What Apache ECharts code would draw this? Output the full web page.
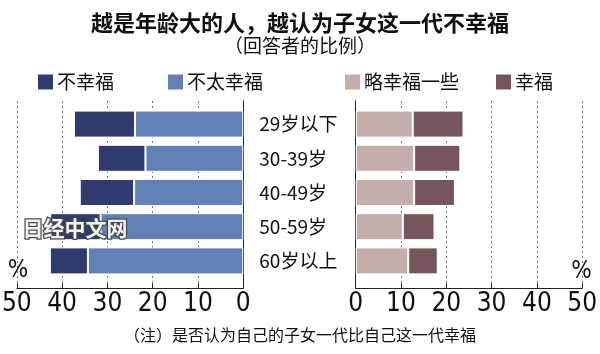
<!DOCTYPE html>
<html>
<head>
<meta charset="utf-8">
<script src="https://cdn.jsdelivr.net/npm/echarts@6/dist/echarts.min.js"></script>
<style>html,body{margin:0;padding:0;background:#fff}#c{width:600px;height:354px}</style>
</head>
<body>
<div id="c"></div>
<script>
const categories = ['29岁以下', '30-39岁', '40-49岁', '50-59岁', '60岁以上'];
const notHappy = [13.5, 10.5, 12.0, 11.1, 8.4];      // 不幸福
const notVeryHappy = [23.9, 21.6, 24.1, 31.5, 34.3]; // 不太幸福
const slightlyHappy = [12.6, 12.9, 12.9, 10.4, 11.6]; // 略幸福一些
const happy = [11.2, 10.2, 9.0, 7.0, 6.5];           // 幸福
const tickValues = [0, 10, 20, 30, 40, 50];

const CJK = "'Noto Sans CJK SC', 'Noto Sans', sans-serif";
const NARROW = "'Liberation Sans Narrow', 'DejaVu Sans Condensed', 'Liberation Sans', sans-serif";
const colors = { notHappy: '#2e3b6c', notVeryHappy: '#6080b6', slightlyHappy: '#c4adab', happy: '#76555b' };

const chart = echarts.init(document.getElementById('c'), null, { renderer: 'canvas' });

const gridL = { left: 16.8, width: 226.5 };
const gridR = { left: 355.7, width: 226.5 };

function decoX(idx, inverse) {
  return {
    type: 'value', gridIndex: idx, min: tickValues[0], max: tickValues[tickValues.length - 1], interval: 10,
    inverse: inverse,
    axisLine: { show: true, onZero: false, lineStyle: { color: '#222', width: 1 } },
    axisTick: { show: true, inside: true, length: 5, lineStyle: { color: '#222' } },
    axisLabel: { show: true, margin: 3, color: '#111', fontSize: 26, fontFamily: NARROW },
    splitLine: { show: true, lineStyle: { color: '#777', type: [2, 3], width: 1 } }
  };
}
function decoY(idx, pos) {
  return {
    type: 'value', gridIndex: idx, min: 0, max: 1, position: pos,
    axisLine: { show: true, onZero: false, lineStyle: { color: '#222', width: 1 } },
    axisTick: { show: false }, axisLabel: { show: false }, splitLine: { show: false }
  };
}

function legend(name, left) {
  return {
    data: [name], left: left, top: 72.5, padding: 0, itemWidth: 17, itemHeight: 17, icon: 'rect',
    itemGap: 0, selectedMode: false,
    textStyle: { fontFamily: CJK, fontSize: 19, color: '#111', padding: [0, 0, 0, -2] }
  };
}

function barSeries(name, data, color, xIdx, yIdx) {
  return {
    type: 'bar', name: name, data: data, stack: 'g' + xIdx, xAxisIndex: xIdx, yAxisIndex: yIdx,
    barWidth: 27,
    itemStyle: { color: color, borderColor: '#fff', borderWidth: 1 },
    emphasis: { disabled: true }
  };
}

chart.setOption({
  animation: false,
  backgroundColor: '#fff',
  title: [
    { text: '越是年龄大的人，越认为子女这一代不幸福', left: 'center', top: 12, padding: 0,
      textStyle: { fontFamily: CJK, fontSize: 22, fontWeight: 'bold', color: '#111' } },
    { text: '（回答者的比例）', left: 'center', top: 36, padding: 0,
      textStyle: { fontFamily: CJK, fontSize: 19, fontWeight: 'normal', color: '#111' } },
    { text: '（注）是否认为自己的子女一代比自己这一代幸福', left: 'center', top: 327, padding: 0,
      textStyle: { fontFamily: CJK, fontSize: 16, fontWeight: 'normal', color: '#111' } }
  ],
  legend: [
    legend('不幸福', 36),
    legend('不太幸福', 166),
    legend('略幸福一些', 343),
    legend('幸福', 494)
  ],
  grid: [
    { left: gridL.left, width: gridL.width, top: 107, height: 171, containLabel: false, outerBoundsMode: 'none' },
    { left: gridR.left, width: gridR.width, top: 107, height: 171, containLabel: false, outerBoundsMode: 'none' },
    { left: gridL.left, width: gridL.width, top: 101, height: 187.3, containLabel: false, outerBoundsMode: 'none' },
    { left: gridR.left, width: gridR.width, top: 101, height: 187.3, containLabel: false, outerBoundsMode: 'none' }
  ],
  xAxis: [
    { type: 'value', gridIndex: 0, min: 0, max: 50, inverse: true, show: false },
    { type: 'value', gridIndex: 1, min: 0, max: 50, show: false },
    decoX(2, true),
    decoX(3, false)
  ],
  yAxis: [
    { type: 'category', gridIndex: 0, data: categories, inverse: true, position: 'right',
      axisLine: { show: false }, axisTick: { show: false },
      axisLabel: { show: true, margin: 16, align: 'left', fontFamily: CJK, fontSize: 19, color: '#111' } },
    { type: 'category', gridIndex: 1, data: categories, inverse: true, show: false },
    decoY(2, 'right'),
    decoY(3, 'left')
  ],
  series: [
    barSeries('不太幸福', notVeryHappy, colors.notVeryHappy, 0, 0),
    barSeries('不幸福', notHappy, colors.notHappy, 0, 0),
    barSeries('略幸福一些', slightlyHappy, colors.slightlyHappy, 1, 1),
    barSeries('幸福', happy, colors.happy, 1, 1)
  ],
  graphic: [
    { type: 'text', x: 18, y: 271, z: 10,
      style: { text: '%', font: '24px ' + NARROW, fill: '#111', align: 'center', verticalAlign: 'middle' } },
    { type: 'text', x: 581.5, y: 272, z: 10,
      style: { text: '%', font: '24px ' + NARROW, fill: '#111', align: 'center', verticalAlign: 'middle' } },
    { type: 'text', x: 75, y: 228.5, z: 20,
      style: { text: '日经中文网', font: 'bold 21px ' + CJK, fill: '#f2f2f2', stroke: '#4a4a4a', lineWidth: 2.5,
               align: 'center', verticalAlign: 'middle' } }
  ]
});
</script>
</body>
</html>
